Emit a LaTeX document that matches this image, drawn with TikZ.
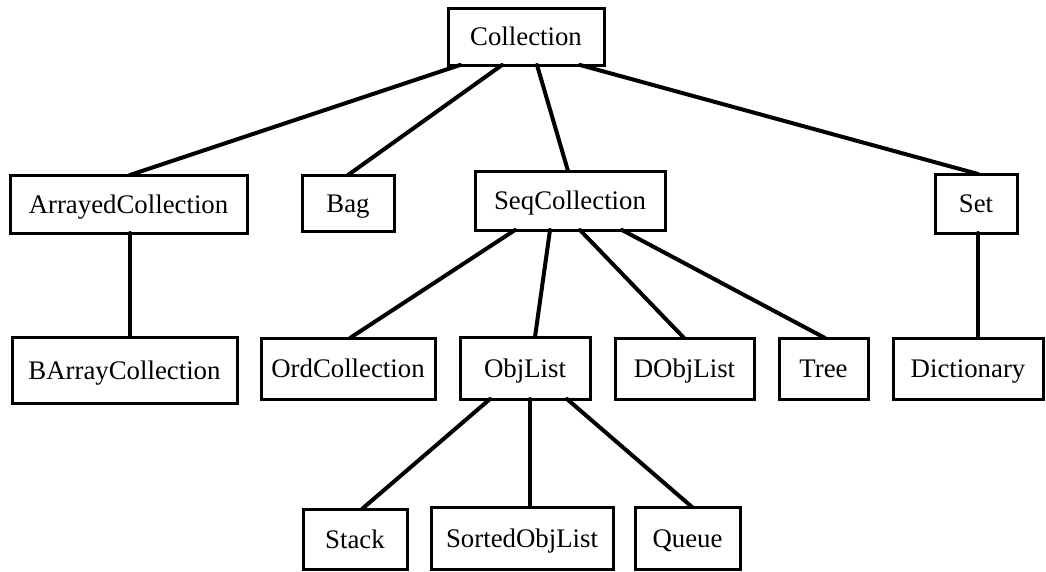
\documentclass[tikz,border=0pt]{standalone}
\usepackage{fontspec}
\setmainfont{Liberation Serif}
\tikzset{
  classbox/.style={draw, line width=3pt, inner sep=0pt, outer sep=0pt,
    text height=19pt, text depth=1pt,
    font=\fontsize{26.8}{31}\selectfont},
  link/.style={line width=4pt, line cap=round}
}
% \cbox{name}{x1}{y1}{x2}{y2}{label}: a class box given by its corners
\newcommand{\cbox}[6]{%
  \pgfmathsetmacro{\cbw}{#4-#2}\pgfmathsetmacro{\cbh}{#5-#3}%
  \node[classbox, minimum width=\cbw pt, minimum height=\cbh pt]
    (#1) at ({(#2+#4)/2},{(#3+#5)/2}) {#6};}
\begin{document}
\begin{tikzpicture}[x=1pt,y=-1pt]
\useasboundingbox (0,0) rectangle (1046,571);

\cbox{col}{448}{8}{604}{65}{Collection}
\cbox{arr}{10}{175}{247}{233}{ArrayedCollection}
\cbox{bag}{302}{175}{394}{231}{Bag}
\cbox{seq}{475}{171}{665}{230}{SeqCollection}
\cbox{set}{935}{174}{1017}{233}{Set}
\cbox{barr}{12}{337}{237}{403}{BArrayCollection}
\cbox{ord}{261}{338}{435}{399}{OrdCollection}
\cbox{obj}{460}{337}{590}{399}{ObjList}
\cbox{dobj}{615}{338}{754}{399}{DObjList}
\cbox{tree}{779}{338}{868}{399}{Tree}
\cbox{dict}{893}{338}{1043}{399}{Dictionary}
\cbox{stack}{303}{509}{407}{569}{Stack}
\cbox{sorted}{431}{507}{613}{569}{SortedObjList}
\cbox{queue}{635}{507}{740}{569}{Queue}

% inheritance links
\draw[link] (col.south -| 460,0) -- (arr.north -| 130,0);
\draw[link] (col.south -| 502,0) -- (bag.north -| 348,0);
\draw[link] (col.south -| 537,0) -- (seq.north -| 568,0);
\draw[link] (col.south -| 580,0) -- (set.north -| 978,0);
\draw[link] (arr.south -| 130,0) -- (barr.north -| 130,0);
\draw[link] (seq.south -| 515,0) -- (ord.north -| 350,0);
\draw[link] (seq.south -| 550,0) -- (obj.north -| 535,0);
\draw[link] (seq.south -| 580,0) -- (dobj.north -| 684,0);
\draw[link] (seq.south -| 622,0) -- (tree.north -| 825,0);
\draw[link] (set.south -| 978,0) -- (dict.north -| 978,0);
\draw[link] (obj.south -| 490,0) -- (stack.north -| 362,0);
\draw[link] (obj.south -| 530,0) -- (sorted.north -| 530,0);
\draw[link] (obj.south -| 567,0) -- (queue.north -| 692,0);
\end{tikzpicture}
\end{document}
